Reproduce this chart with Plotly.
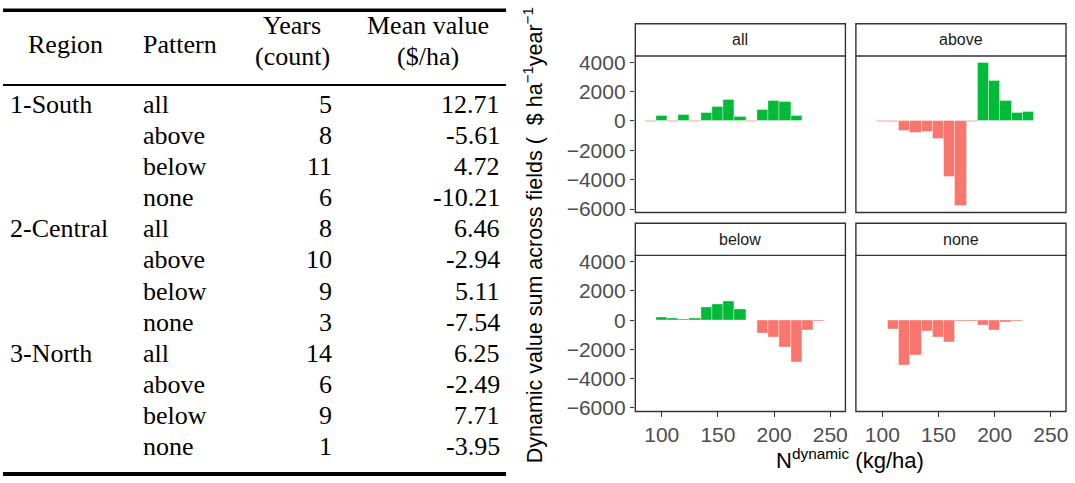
import plotly.graph_objects as go

W, H = 1075, 483

# ---------------- table data ----------------
tbl_regions = ["1-South", "", "", "", "2-Central", "", "", "", "3-North", "", "", ""]
tbl_patterns = ["all", "above", "below", "none"] * 3
tbl_years = [5, 8, 11, 6, 8, 10, 9, 3, 14, 6, 9, 1]
tbl_means = ["12.71", "-5.61", "4.72", "-10.21", "6.46", "-2.94", "5.11", "-7.54",
             "6.25", "-2.49", "7.71", "-3.95"]

# ---------------- facet data (N dynamic bin centre, value sum) ----------------
n_all = [90, 100, 110, 120, 130, 140, 150, 160, 170, 180, 190, 200, 210, 220]
v_all = [-40, 356, -40, 422, -40, 578, 933, 1400, 244, -40, 733, 1356, 1311, 356]

n_above = [100, 110, 120, 130, 140, 150, 160, 170, 180, 190, 200, 210, 220, 230]
v_above = [-40, -80, -710, -844, -733, -1244, -3800, -5778, -90, 3933, 2711, 1356, 578, 600]

n_below = [100, 110, 120, 130, 140, 150, 160, 170, 180, 190, 200, 210, 220, 230, 240, 250]
v_below = [200, 133, 67, 133, 844, 1067, 1267, 733, -30, -933, -1156, -1889, -2911, -667, -111, -44]

n_none = [110, 120, 130, 140, 150, 160, 170, 180, 190, 200, 210, 220]
v_none = [-600, -3089, -2422, -778, -1178, -1511, -60, -60, -378, -689, -178, -50]

x_ticks = [100, 150, 200, 250]
y_ticks = [-6000, -4000, -2000, 0, 2000, 4000]
y_ticktext = ["\u22126000", "\u22124000", "\u22122000", "0", "2000", "4000"]

POS, NEG = "#00BA38", "#F8766D"
SANS = "Liberation Sans, Arial, Helvetica, sans-serif"


def px(x):
    return x / W


def py(y):
    return 1 - y / H


cols = [(636.5, 847.0), (857.5, 1068.0)]
rows = [(52.3, 213.3, 19.3), (257.3, 417.7, 224.3)]  # plot top, plot bottom, strip top

panels = [
    ("all", n_all, v_all, 0, 0),
    ("above", n_above, v_above, 0, 1),
    ("below", n_below, v_below, 1, 0),
    ("none", n_none, v_none, 1, 1),
]

fig = go.Figure()
shapes = []
annotations = []
layout_axes = {}

for i, (name, xs, vs, r, c) in enumerate(panels):
    k = "" if i == 0 else str(i + 1)
    fig.add_trace(go.Bar(
        x=xs, y=vs, width=10,
        marker=dict(color=[POS if v > 0 else NEG for v in vs],
                    line=dict(color="rgba(255,255,255,0.45)", width=0.8)),
        xaxis="x" + k, yaxis="y" + k, showlegend=False, hoverinfo="x+y",
    ))
    x0, x1 = cols[c]
    top, bot, stop = rows[r]
    bottom_row = r == 1
    left_col = c == 0
    layout_axes["xaxis" + k] = dict(
        domain=[px(x0), px(x1)], anchor="y" + k, range=[76.5, 263.5],
        tickvals=x_ticks, showticklabels=bottom_row,
        ticks="outside" if bottom_row else "", ticklen=4.5, tickwidth=1.1, tickcolor="#333333",
        tickfont=dict(family=SANS, size=21, color="#4D4D4D"),
        showgrid=False, zeroline=False, showline=False, fixedrange=True,
    )
    layout_axes["yaxis" + k] = dict(
        domain=[py(bot), py(top)], anchor="x" + k, range=[-6240, 4430],
        tickvals=y_ticks, ticktext=y_ticktext, showticklabels=left_col,
        ticks="outside" if left_col else "", ticklen=4.5, tickwidth=1.1, tickcolor="#333333",
        tickfont=dict(family=SANS, size=21, color="#4D4D4D"),
        showgrid=False, zeroline=False, showline=False, fixedrange=True,
    )
    # panel border
    shapes.append(dict(type="rect", xref="paper", yref="paper",
                       x0=px(x0), x1=px(x1), y0=py(bot), y1=py(top),
                       line=dict(color="#333333", width=1.4), fillcolor="rgba(0,0,0,0)",
                       layer="above"))
    # strip
    shapes.append(dict(type="rect", xref="paper", yref="paper",
                       x0=px(x0), x1=px(x1), y0=py(top), y1=py(stop),
                       line=dict(color="#333333", width=1.4), fillcolor="white",
                       layer="above"))
    annotations.append(dict(text=name, xref="paper", yref="paper",
                            x=px((x0 + x1) / 2), y=py((top + stop) / 2),
                            xanchor="center", yanchor="middle", showarrow=False,
                            font=dict(family=SANS, size=16, color="#1A1A1A")))

# axis titles
annotations.append(dict(
    text="Dynamic value sum across fields (  $ ha<sup>\u22121</sup>year<sup>\u22121</sup>",
    xref="paper", yref="paper", x=px(534), y=py(473), xanchor="center", yanchor="bottom",
    textangle=-90, showarrow=False,
    font=dict(family=SANS, size=21.5, color="black")))
annotations.append(dict(
    text="N<sup>dynamic</sup> (kg/ha)",
    xref="paper", yref="paper", x=px(852), y=py(467), xanchor="center", yanchor="middle",
    showarrow=False,
    font=dict(family=SANS, size=22, color="black")))

# ---------------- table ----------------
TF = dict(family="Liberation Serif, Times New Roman, serif", size=26, color="black")


def tann(text, x, y, xa):
    annotations.append(dict(text=text, xref="paper", yref="paper", x=px(x), y=py(y),
                            xanchor=xa, yanchor="middle", showarrow=False, font=TF))


# rules
shapes.append(dict(type="line", xref="paper", yref="paper", x0=px(3), x1=px(507),
                   y0=py(5.5), y1=py(5.5), line=dict(color="black", width=3.5)))
shapes.append(dict(type="line", xref="paper", yref="paper", x0=px(3), x1=px(507),
                   y0=py(82.3), y1=py(82.3), line=dict(color="black", width=2)))
shapes.append(dict(type="line", xref="paper", yref="paper", x0=px(3), x1=px(507),
                   y0=py(482), y1=py(482), line=dict(color="black", width=4)))

# header
tann("Region", 66, 41, "center")
tann("Pattern", 141.5, 41, "left")
tann("Years", 293, 21, "center")
tann("(count)", 293, 53, "center")
tann("Mean value", 429, 21, "center")
tann("($/ha)", 429, 53, "center")

for i in range(len(tbl_patterns)):
    yc = 102 + 32 * i
    if tbl_regions[i]:
        tann(tbl_regions[i], 8.5, yc, "left")
    tann(tbl_patterns[i], 141.5, yc, "left")
    tann(str(tbl_years[i]), 335, yc, "right")
    tann(tbl_means[i], 503, yc, "right")

fig.update_layout(
    width=W, height=H, margin=dict(l=0, r=0, t=0, b=0),
    paper_bgcolor="white", plot_bgcolor="white",
    bargap=0, barmode="overlay",
    shapes=shapes, annotations=annotations,
    **layout_axes,
)

fig.write_html("out.html", config={"displayModeBar": False},
               post_script="document.body.style.margin='0';document.body.style.overflow='hidden';")
